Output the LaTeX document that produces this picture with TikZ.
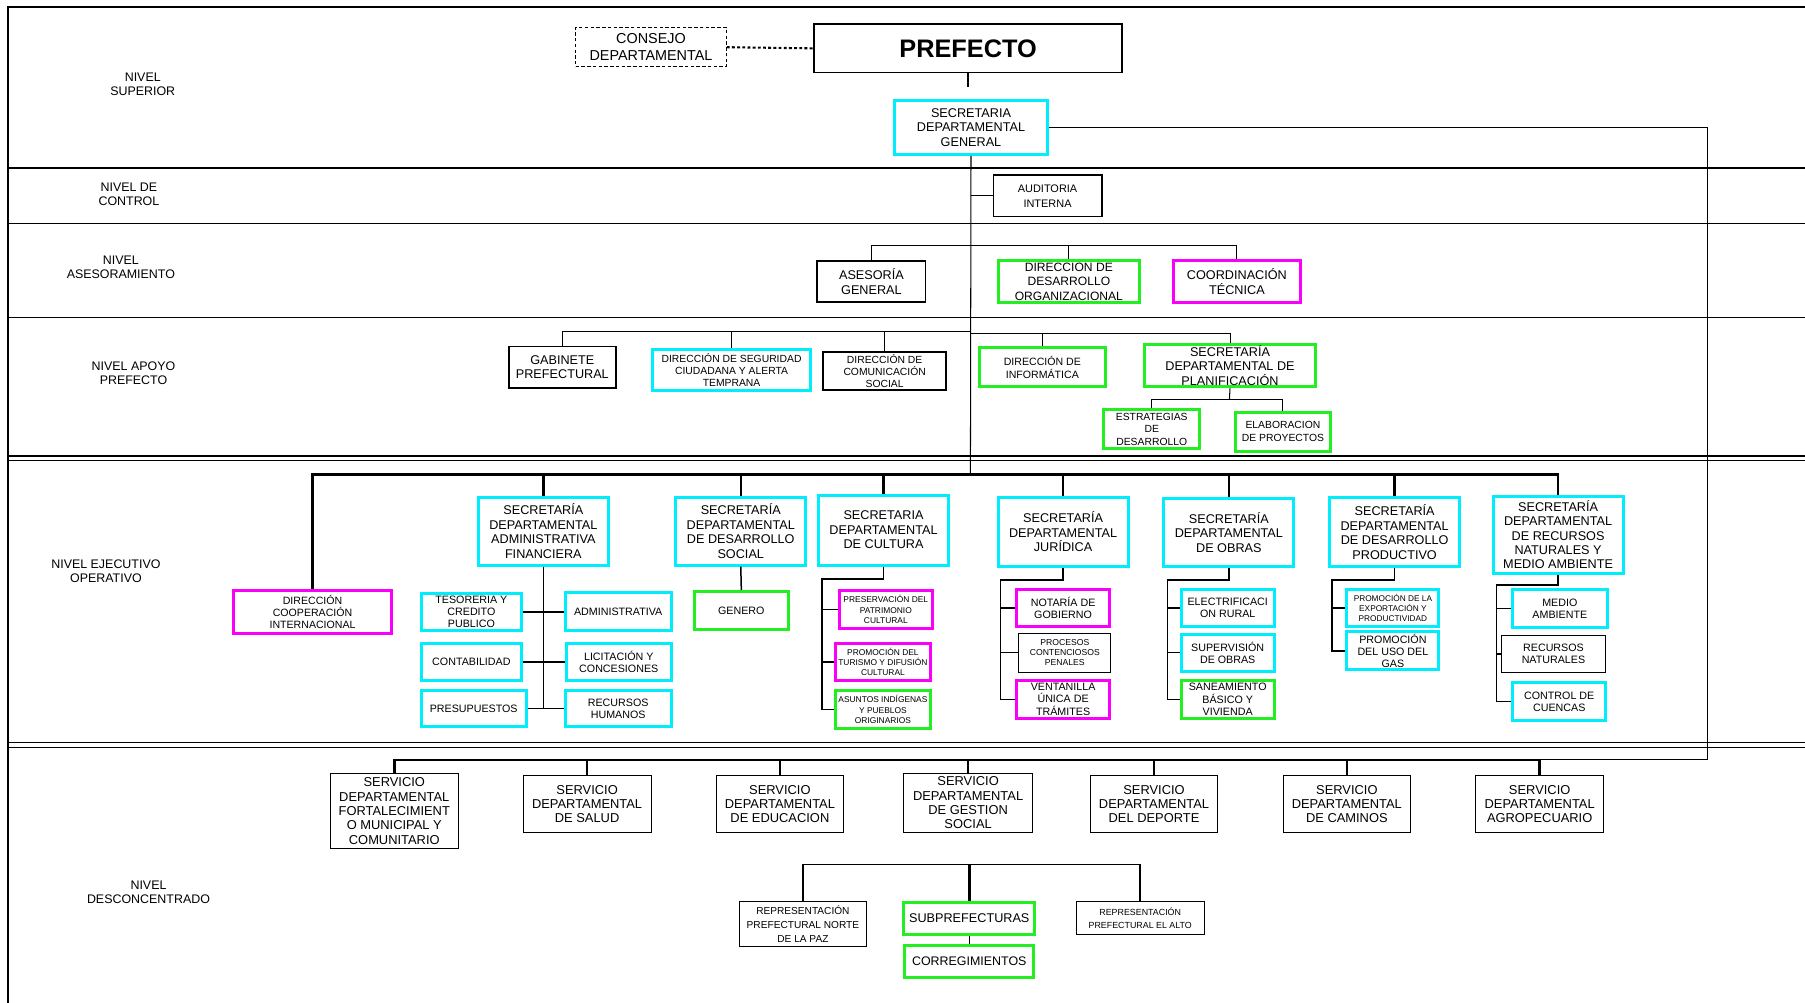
\documentclass[tikz,border=0pt]{standalone}
\usepackage{fontspec}
\setmainfont{Liberation Sans}
\definecolor{cian}{RGB}{0,238,252}
\definecolor{verde}{RGB}{34,238,34}
\definecolor{rosa}{RGB}{250,0,250}
\newcommand{\fs}[2]{\fontsize{#1}{#2}\selectfont}
\tikzset{
  caja/.style={draw, align=center, inner sep=0pt},
  tam/.style 2 args={minimum width=#1pt, minimum height=#2pt},
  cajacian/.style={caja, draw=cian, line width=2.6pt},
  cajaverde/.style={caja, draw=verde, line width=2.6pt},
  cajarosa/.style={caja, draw=rosa, line width=2.6pt},
  cajanegra/.style={caja, line width=1.6pt},
  cajafina/.style={caja, line width=0.8pt},
  secre/.style={cajacian, tam={113}{59}, font=\fs{11}{12.6}},
  servicio/.style={cajafina, tam={111}{49}, font=\fs{11.2}{12.5}},
  sub/.style={font=\fs{9.3}{10.5}},
  mini/.style={font=\fs{7.3}{9}},
  nivel/.style={align=center, font=\fs{10.8}{12}},
  linea/.style={line width=0.9pt},
  rama/.style={line width=1.3pt},
  tronco/.style={line width=2.2pt},
}
\begin{document}
\begin{tikzpicture}[x=1pt, y=-1pt]
        \useasboundingbox (0,0) rectangle (1568,871);
        \draw[line width=1.2pt] (7,871) -- (7,6) -- (1568,6);
        \draw[line width=1.2pt] (7,146) -- (1568,146);
        \draw[line width=1.2pt] (7,194) -- (1568,194);
        \draw[line width=1.2pt] (7,276) -- (1568,276);
        \draw[line width=1.6pt] (7,396) -- (1568,396);
        \draw[line width=0.7pt] (7,400) -- (1568,400);
        \draw[line width=1.6pt] (7,645) -- (1568,645);
        \draw[line width=0.7pt] (7,649) -- (1568,649);

        \node[nivel] (nsup) at (124,73) {NIVEL\\SUPERIOR};
        \node[nivel] (nctl) at (112,169) {NIVEL DE\\CONTROL};
        \node[nivel] (nase) at (105,232) {NIVEL\\ASESORAMIENTO};
        \node[nivel] (napo) at (116,324) {NIVEL APOYO\\PREFECTO};
        \node[nivel] (neje) at (92,496) {NIVEL EJECUTIVO\\OPERATIVO};
        \node[nivel] (ndes) at (129,775) {NIVEL\\DESCONCENTRADO};

        \node[caja, line width=0.7pt, dash pattern=on 3pt off 2pt, tam={131}{34}, font=\fs{12.5}{14.5}] (consejo) at (565.5,41) {CONSEJO\\DEPARTAMENTAL};
        \node[cajanegra, tam={268}{42}, font=\fs{22}{24}\bfseries] (prefecto) at (841,42) {PREFECTO};
        \node[cajacian, tam={133}{47}, font=\fs{11}{12.6}] (secgen) at (843.5,110.5) {SECRETARIA\\DEPARTAMENTAL\\GENERAL};

        \node[cajanegra, tam={94}{36}, font=\fs{9.5}{13}] (auditoria) at (910,170) {AUDITORIA\\INTERNA};

        \node[cajanegra, tam={94}{35}, font=\fs{11}{12.6}] (aseso) at (757,244.5) {ASESORÍA\\GENERAL};
        \node[cajaverde, tam={123}{37}, font=\fs{10.5}{12.5}] (desorg) at (928.5,244.5) {DIRECCION DE\\DESARROLLO\\ORGANIZACIONAL};
        \node[cajarosa, tam={111}{37}, font=\fs{11}{12.6}] (coord) at (1074.5,244.5) {COORDINACIÓN\\TÉCNICA};

        \node[cajanegra, tam={93}{36}, font=\fs{11}{12.6}] (gabinete) at (488.5,319) {GABINETE\\PREFECTURAL};
        \node[cajacian, tam={137}{35}, font=\fs{9}{10.5}] (dirseg) at (635.5,321.5) {DIRECCIÓN DE SEGURIDAD\\CIUDADANA Y ALERTA\\TEMPRANA};
        \node[cajanegra, tam={107}{33}, font=\fs{9}{10.5}] (dircom) at (768.5,322.5) {DIRECCIÓN DE\\COMUNICACIÓN\\SOCIAL};
        \node[cajaverde, tam={109}{34}, font=\fs{9.2}{11}] (dirinf) at (905.5,319) {DIRECCIÓN DE\\INFORMÁTICA};
        \node[cajaverde, tam={149}{37}, font=\fs{11}{12.5}] (secplan) at (1068.5,317.5) {SECRETARÍA\\DEPARTAMENTAL DE\\PLANIFICACIÓN};
        \node[cajaverde, tam={83}{34}, font=\fs{9}{10.5}] (estrat) at (1000.5,373) {ESTRATEGIAS\\DE\\DESARROLLO};
        \node[cajaverde, tam={83}{34}, font=\fs{9}{11}] (elabor) at (1114.5,375) {ELABORACION\\DE PROYECTOS};

        \node[cajarosa, tam={137}{37}, font=\fs{9.2}{10.5}] (coopint) at (271.5,531.5) {DIRECCIÓN\\COOPERACIÓN\\INTERNACIONAL};
        \node[secre] (secadm) at (472,461.5) {SECRETARÍA\\DEPARTAMENTAL\\ADMINISTRATIVA\\FINANCIERA};
        \node[secre] (secsoc) at (643.5,461.5) {SECRETARÍA\\DEPARTAMENTAL\\DE DESARROLLO\\SOCIAL};
        \node[secre, tam={113}{61}] (seccul) at (767.5,460.5) {SECRETARIA\\DEPARTAMENTAL\\DE CULTURA};
        \node[secre, tam={113}{60}] (secjur) at (923.5,462) {SECRETARÍA\\DEPARTAMENTAL\\JURÍDICA};
        \node[secre] (secobr) at (1067.5,462.5) {SECRETARÍA\\DEPARTAMENTAL\\DE OBRAS};
        \node[secre, tam={113}{60}] (secpro) at (1211.5,462) {SECRETARÍA\\DEPARTAMENTAL\\DE DESARROLLO\\PRODUCTIVO};
        \node[secre, tam={113}{67}, font=\fs{11}{12.4}] (secrna) at (1353.5,464.5) {SECRETARÍA\\DEPARTAMENTAL\\DE RECURSOS\\NATURALES Y\\MEDIO AMBIENTE};

        \node[cajacian, sub, tam={87}{32}] (tesor) at (409.5,531.5) {TESORERIA Y\\CREDITO\\PUBLICO};
        \node[cajacian, sub, tam={92}{33}] (admva) at (537,531.5) {ADMINISTRATIVA};
        \node[cajacian, sub, tam={87}{32}] (contab) at (409.5,575) {CONTABILIDAD};
        \node[cajacian, sub, tam={91}{32}] (licit) at (537.5,575) {LICITACIÓN Y\\CONCESIONES};
        \node[cajacian, sub, tam={91}{31}] (presup) at (411.5,615.5) {PRESUPUESTOS};
        \node[cajacian, sub, tam={92}{31}] (rrhh) at (537,615.5) {RECURSOS\\HUMANOS};

        \node[cajaverde, sub, tam={82}{33}] (genero) at (644,530.5) {GENERO};

        \node[cajarosa, mini, tam={81}{33}] (patrim) at (769.5,529.5) {PRESERVACIÓN DEL\\PATRIMONIO\\CULTURAL};
        \node[cajarosa, mini, tam={82}{32}] (turismo) at (767,575) {PROMOCIÓN DEL\\TURISMO Y DIFUSIÓN\\CULTURAL};
        \node[cajaverde, mini, tam={82}{33}] (indig) at (767,616.5) {ASUNTOS INDÍGENAS\\Y PUEBLOS\\ORIGINARIOS};

        \node[cajarosa, sub, tam={81}{32}] (notaria) at (923.5,528) {NOTARÍA DE\\GOBIERNO};
        \node[cajafina, font=\fs{7.5}{8.5}, tam={80}{34}] (procesos) at (925,567) {PROCESOS\\CONTENCIOSOS\\PENALES};
        \node[cajarosa, sub, tam={81}{33}] (ventan) at (923.5,607.5) {VENTANILLA\\ÚNICA DE\\TRÁMITES};

        \node[cajacian, sub, tam={81}{32}] (electr) at (1066.5,528) {ELECTRIFICACI\\ON RURAL};
        \node[cajacian, sub, tam={81}{32}] (superv) at (1066.5,567) {SUPERVISIÓN\\DE OBRAS};
        \node[cajaverde, sub, tam={81}{33}] (saneam) at (1066.5,607.5) {SANEAMIENTO\\BÁSICO Y\\VIVIENDA};

        \node[cajacian, font=\fs{7.2}{8.6}, tam={80}{32}] (export) at (1210,528) {PROMOCIÓN DE LA\\EXPORTACIÓN Y\\PRODUCTIVIDAD};
        \node[cajacian, sub, tam={80}{33}] (usogas) at (1210,565.5) {PROMOCIÓN\\DEL USO DEL\\GAS};

        \node[cajacian, sub, tam={82}{33}] (medamb) at (1355,528.5) {MEDIO\\AMBIENTE};
        \node[cajafina, sub, tam={91}{32}] (rnatur) at (1349.5,568) {RECURSOS\\NATURALES};
        \node[cajacian, sub, tam={81}{33}] (cuencas) at (1354.5,609.5) {CONTROL DE\\CUENCAS};

        \node[servicio, tam={111}{65}] (sfort) at (342.5,704.5) {SERVICIO\\DEPARTAMENTAL\\FORTALECIMIENT\\O MUNICIPAL Y\\COMUNITARIO};
        \node[servicio] (ssalud) at (510,698.5) {SERVICIO\\DEPARTAMENTAL\\DE SALUD};
        \node[servicio] (seduc) at (677.5,698.5) {SERVICIO\\DEPARTAMENTAL\\DE EDUCACION};
        \node[servicio, tam={112}{51}] (sgest) at (841,697.5) {SERVICIO\\DEPARTAMENTAL\\DE GESTION\\SOCIAL};
        \node[servicio] (sdep) at (1002.5,698.5) {SERVICIO\\DEPARTAMENTAL\\DEL DEPORTE};
        \node[servicio] (scam) at (1170,698.5) {SERVICIO\\DEPARTAMENTAL\\DE CAMINOS};
        \node[servicio] (sagro) at (1337.5,698.5) {SERVICIO\\DEPARTAMENTAL\\AGROPECUARIO};

        \node[cajafina, tam={111}{39}, font=\fs{8.8}{12.3}] (repnorte) at (697.5,802.5) {REPRESENTACIÓN\\PREFECTURAL NORTE\\DE LA PAZ};
        \node[cajaverde, tam={114}{28}, font=\fs{11}{12.5}] (subpref) at (842,798) {SUBPREFECTURAS};
        \node[cajaverde, tam={112}{28}, font=\fs{10.8}{12.5}] (correg) at (842,835) {CORREGIMIENTOS};
        \node[cajafina, tam={111}{29}, font=\fs{7.7}{11}] (repalto) at (990.5,797.5) {REPRESENTACIÓN\\PREFECTURAL EL ALTO};

        \coordinate (pstub) at (841,76);
        \coordinate (ase) at (843,213);
        \coordinate (apo) at (843,288);
        \coordinate (apo2) at (843,290);
        \coordinate (pla) at (1068,347);
        \coordinate (eje) at (843,412);
        \coordinate (der) at (1483,660);
        \coordinate (ser) at (843,660);
        \coordinate (rep) at (841,751);
        \coordinate (bcul) at (714,503);
        \coordinate (bjur) at (869,504);
        \coordinate (bobr) at (1014,504);
        \coordinate (bpro) at (1157,504);
        \coordinate (brna) at (1300,508);

        \draw[line width=1.8pt, dash pattern=on 2.5pt off 2pt] (consejo.east) -- (prefecto.west);
        \draw[line width=1.6pt] (prefecto.south) -- (pstub);
        \draw[linea] (secgen.south) -- (eje);
        \draw[linea] (secgen.east) -| (der) -- (sagro.north |- der);
        \draw[linea] (secgen.south |- auditoria.west) -- (auditoria.west);

        \draw[linea] (aseso.north) |- (ase) -| (coord.north);
        \draw[linea] (desorg.north) -- (desorg.north |- ase);

        \draw[linea] (gabinete.north) |- (apo);
        \draw[linea] (dirseg.north) -- (dirseg.north |- apo);
        \draw[linea] (dircom.north) -- (dircom.north |- apo);
        \draw[linea] (apo2) -| (secplan.north);
        \draw[linea] (dirinf.north) -- (dirinf.north |- apo2);
        \draw[linea] (secplan.south) -- (pla);
        \draw[linea] (estrat.north) |- (pla) -| (elabor.north);

        \draw[tronco] (coopint.north) |- (eje) -| (secrna.north);
        \foreach \s in {secadm, secsoc, seccul, secjur, secobr, secpro}
          \draw[tronco] (\s.north) -- (\s.north |- eje);

        \draw[rama] (secadm.south) -- (secadm.south |- rrhh.west);
        \draw[rama] (tesor.east) -- (admva.west);
        \draw[rama] (contab.east) -- (licit.west);
        \draw[rama] (presup.east) -- (rrhh.west);
        \draw[rama] (secsoc.south) -- (genero.north);

        \draw[rama] (seccul.south) |- (bcul) |- (indig.west);
        \draw[rama] (bcul |- patrim.west) -- (patrim.west);
        \draw[rama] (bcul |- turismo.west) -- (turismo.west);

        \draw[rama] (secjur.south) |- (bjur) |- (ventan.west);
        \draw[rama] (bjur |- notaria.west) -- (notaria.west);
        \draw[rama] (bjur |- procesos.west) -- (procesos.west);

        \draw[rama] (secobr.south) |- (bobr) |- (saneam.west);
        \draw[rama] (bobr |- electr.west) -- (electr.west);
        \draw[rama] (bobr |- superv.west) -- (superv.west);

        \draw[rama] (secpro.south) |- (bpro) |- (usogas.west);
        \draw[rama] (bpro |- export.west) -- (export.west);

        \draw[rama] (secrna.south) |- (brna) |- (cuencas.west);
        \draw[rama] (brna |- medamb.west) -- (medamb.west);
        \draw[rama] (brna |- rnatur.west) -- (rnatur.west);

        \draw[tronco] (sfort.north) |- (ser) -| (sagro.north);
        \foreach \s in {ssalud, seduc, sgest, sdep, scam}
          \draw[tronco] (\s.north) -- (\s.north |- ser);

        \draw[rama] (repnorte.north) |- (rep) -| (repalto.north);
        \draw[tronco] (subpref.north) -- (subpref.north |- rep);
        \draw[linea] (subpref.south) -- (correg.north);
\end{tikzpicture}
\end{document}
